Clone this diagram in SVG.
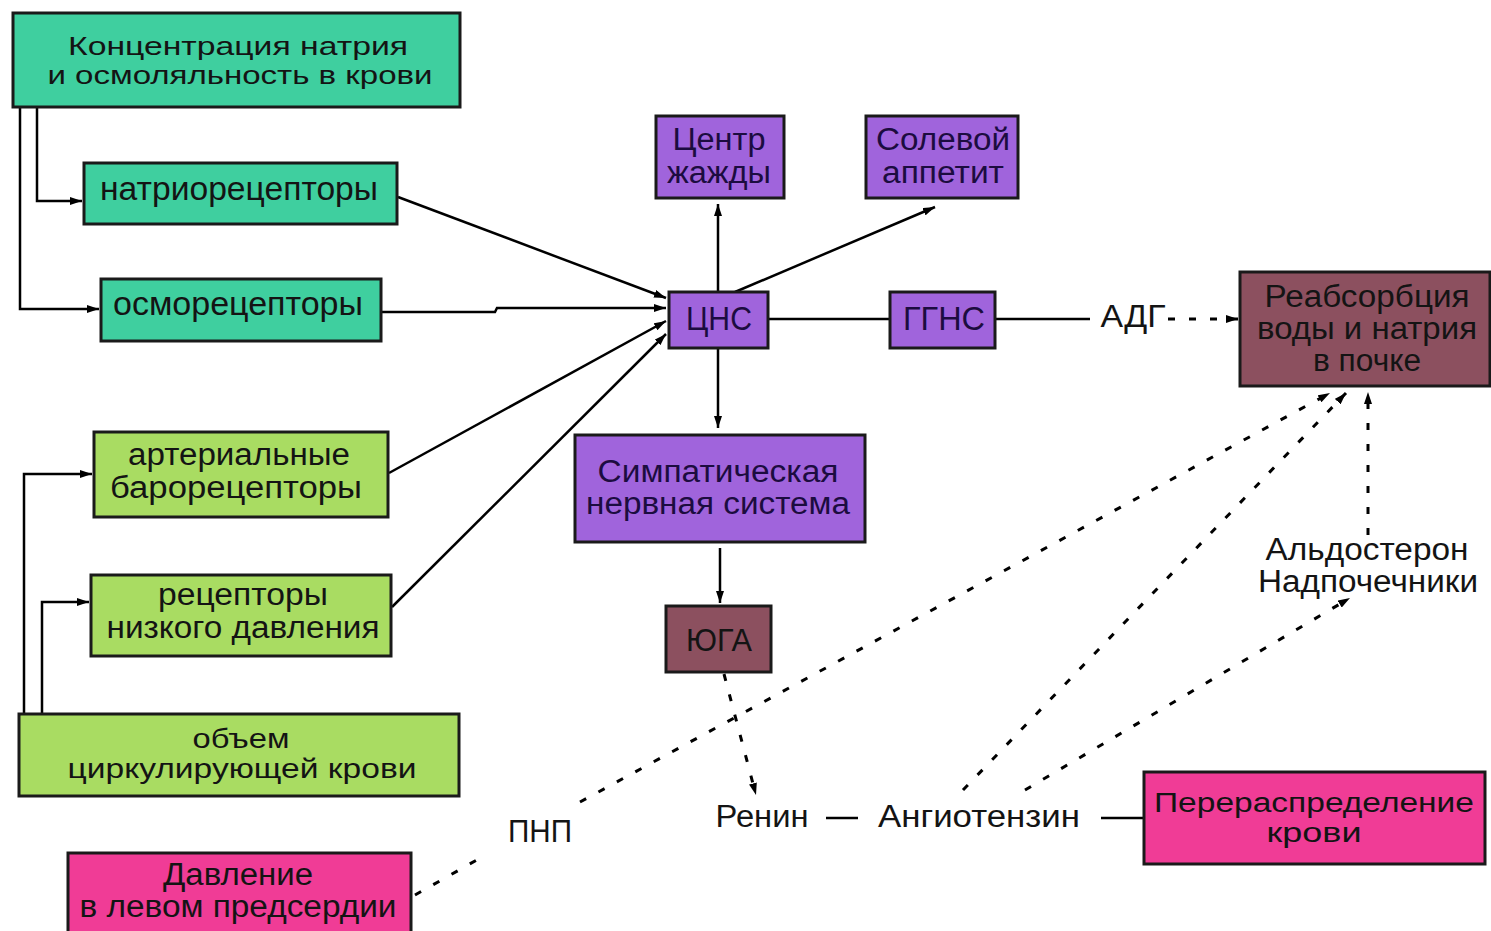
<svg xmlns="http://www.w3.org/2000/svg" width="1491" height="931" viewBox="0 0 1491 931">
<style>
.box{stroke:#1a1a1a;stroke-width:3}
.teal{fill:#3fcf9f}
.lime{fill:#a9dc62}
.purple{fill:#a064dc}
.mauve{fill:#8c505f}
.pink{fill:#f03c96}
text{font-family:"Liberation Sans",Arial,sans-serif;text-anchor:middle;fill:#141414}
.t{font-size:31px}
.pt{fill:#1c0c40}
.ln{fill:none;stroke:#000;stroke-width:2.5}
.ds{fill:none;stroke:#000;stroke-width:3;stroke-dasharray:7 14}
</style>
<defs>
<marker id="ah" viewBox="0 0 12 8" refX="12" refY="4" markerWidth="12" markerHeight="8" markerUnits="userSpaceOnUse" orient="auto">
<path d="M0,0 L12,4 L0,8 z" fill="#000"/>
</marker>
</defs>
<rect width="1491" height="931" fill="#fff"/>

<g id="connectors">
<polyline class="ln" points="37,107 37,201 82,201" marker-end="url(#ah)"/>
<polyline class="ln" points="20,107 20,309 99,309" marker-end="url(#ah)"/>
<line class="ln" x1="398" y1="197" x2="666" y2="298" marker-end="url(#ah)"/>
<polyline class="ln" points="382,312 495,312 497,308 666,308" marker-end="url(#ah)"/>
<line class="ln" x1="389" y1="473" x2="666" y2="321" marker-end="url(#ah)"/>
<line class="ln" x1="392" y1="607" x2="666" y2="334" marker-end="url(#ah)"/>
<polyline class="ln" points="24,714 24,474 92,474" marker-end="url(#ah)"/>
<polyline class="ln" points="42,714 42,602 89,602" marker-end="url(#ah)"/>
<line class="ln" x1="718" y1="292" x2="718" y2="204" marker-end="url(#ah)"/>
<line class="ln" x1="735" y1="292" x2="935" y2="207" marker-end="url(#ah)"/>
<line class="ln" x1="768" y1="319" x2="890" y2="319"/>
<line class="ln" x1="995" y1="319" x2="1090" y2="319"/>
<line class="ds" x1="1168" y1="319" x2="1238" y2="319" marker-end="url(#ah)"/>
<line class="ln" x1="718" y1="348" x2="718" y2="428" marker-end="url(#ah)"/>
<line class="ln" x1="720" y1="548" x2="720" y2="603" marker-end="url(#ah)"/>
<line class="ds" x1="724" y1="674" x2="756" y2="795" marker-end="url(#ah)"/>
<line class="ln" x1="826" y1="818" x2="858" y2="818"/>
<line class="ln" x1="1101" y1="818" x2="1144" y2="818"/>
<line class="ds" x1="415" y1="895" x2="482" y2="857"/>
<line class="ds" x1="580" y1="802" x2="1330" y2="393" marker-end="url(#ah)"/>
<line class="ds" x1="963" y1="790" x2="1346" y2="393" marker-end="url(#ah)"/>
<line class="ds" x1="1025" y1="790" x2="1350" y2="598" marker-end="url(#ah)"/>
<line class="ds" x1="1368" y1="535" x2="1368" y2="392" marker-end="url(#ah)"/>
</g>

<g id="n-conc"><rect class="box teal" x="13" y="13" width="447" height="94"/>
<text x="238" y="55" font-size="26" textLength="340" lengthAdjust="spacingAndGlyphs">Концентрация натрия</text>
<text x="240" y="84" font-size="26" textLength="385" lengthAdjust="spacingAndGlyphs">и осмоляльность в крови</text></g>

<g id="n-natrio"><rect class="box teal" x="84" y="163" width="313" height="61"/>
<text x="239" y="200" font-size="33" textLength="278" lengthAdjust="spacingAndGlyphs">натриорецепторы</text></g>

<g id="n-osmo"><rect class="box teal" x="101" y="279" width="280" height="62"/>
<text x="238" y="315" font-size="33" textLength="250" lengthAdjust="spacingAndGlyphs">осморецепторы</text></g>

<g id="n-baro"><rect class="box lime" x="94" y="432" width="294" height="85"/>
<text class="t" x="239" y="465" textLength="222" lengthAdjust="spacingAndGlyphs">артериальные</text>
<text class="t" x="236" y="498" textLength="252" lengthAdjust="spacingAndGlyphs">барорецепторы</text></g>

<g id="n-lowp"><rect class="box lime" x="91" y="575" width="300" height="81"/>
<text class="t" x="243" y="605" textLength="170" lengthAdjust="spacingAndGlyphs">рецепторы</text>
<text class="t" x="243" y="638" textLength="273" lengthAdjust="spacingAndGlyphs">низкого давления</text></g>

<g id="n-volume"><rect class="box lime" x="19" y="714" width="440" height="82"/>
<text x="241" y="748" font-size="27" textLength="97" lengthAdjust="spacingAndGlyphs">объем</text>
<text x="242" y="778" font-size="27" textLength="349" lengthAdjust="spacingAndGlyphs">циркулирующей крови</text></g>

<g id="n-lap"><rect class="box pink" x="68" y="853" width="343" height="80"/>
<text class="t" x="238" y="885" textLength="150" lengthAdjust="spacingAndGlyphs">Давление</text>
<text class="t" x="238" y="917" textLength="317" lengthAdjust="spacingAndGlyphs">в левом предсердии</text></g>

<g id="n-thirst"><rect class="box purple" x="656" y="116" width="128" height="82"/>
<text class="t pt" x="719" y="150" textLength="93" lengthAdjust="spacingAndGlyphs">Центр</text>
<text class="t pt" x="719" y="183" textLength="104" lengthAdjust="spacingAndGlyphs">жажды</text></g>

<g id="n-salt"><rect class="box purple" x="866" y="116" width="152" height="82"/>
<text class="t pt" x="943" y="150" textLength="134" lengthAdjust="spacingAndGlyphs">Солевой</text>
<text class="t pt" x="943" y="183" textLength="122" lengthAdjust="spacingAndGlyphs">аппетит</text></g>

<g id="n-cns"><rect class="box purple" x="669" y="292" width="99" height="56"/>
<text class="pt" x="719" y="330" font-size="34" textLength="66" lengthAdjust="spacingAndGlyphs">ЦНС</text></g>

<g id="n-ggns"><rect class="box purple" x="890" y="292" width="105" height="56"/>
<text class="pt" x="944" y="330" font-size="34" textLength="82" lengthAdjust="spacingAndGlyphs">ГГНС</text></g>

<g id="n-sns"><rect class="box purple" x="575" y="435" width="290" height="107"/>
<text class="t pt" x="718" y="482" textLength="241" lengthAdjust="spacingAndGlyphs">Симпатическая</text>
<text class="t pt" x="718" y="514" textLength="264" lengthAdjust="spacingAndGlyphs">нервная система</text></g>

<g id="n-yuga"><rect class="box mauve" x="666" y="606" width="105" height="66"/>
<text class="t" x="719" y="651" textLength="66" lengthAdjust="spacingAndGlyphs">ЮГА</text></g>

<g id="n-reabs"><rect class="box mauve" x="1240" y="272" width="250" height="114"/>
<text class="t" x="1367" y="307" textLength="205" lengthAdjust="spacingAndGlyphs">Реабсорбция</text>
<text class="t" x="1367" y="339" textLength="220" lengthAdjust="spacingAndGlyphs">воды и натрия</text>
<text class="t" x="1367" y="371" textLength="108" lengthAdjust="spacingAndGlyphs">в почке</text></g>

<g id="n-redist"><rect class="box pink" x="1144" y="772" width="341" height="92"/>
<text x="1314" y="812" font-size="27" textLength="320" lengthAdjust="spacingAndGlyphs">Перераспределение</text>
<text x="1314" y="842" font-size="27" textLength="95" lengthAdjust="spacingAndGlyphs">крови</text></g>

<g id="labels">
<text class="t" x="1133" y="327" textLength="65" lengthAdjust="spacingAndGlyphs">АДГ</text>
<text class="t" x="762" y="827" textLength="93" lengthAdjust="spacingAndGlyphs">Ренин</text>
<text class="t" x="979" y="827" textLength="202" lengthAdjust="spacingAndGlyphs">Ангиотензин</text>
<text class="t" x="540" y="842" textLength="64" lengthAdjust="spacingAndGlyphs">ПНП</text>
<text class="t" x="1367" y="560" textLength="203" lengthAdjust="spacingAndGlyphs">Альдостерон</text>
<text class="t" x="1368" y="592" textLength="220" lengthAdjust="spacingAndGlyphs">Надпочечники</text>
</g>
</svg>
